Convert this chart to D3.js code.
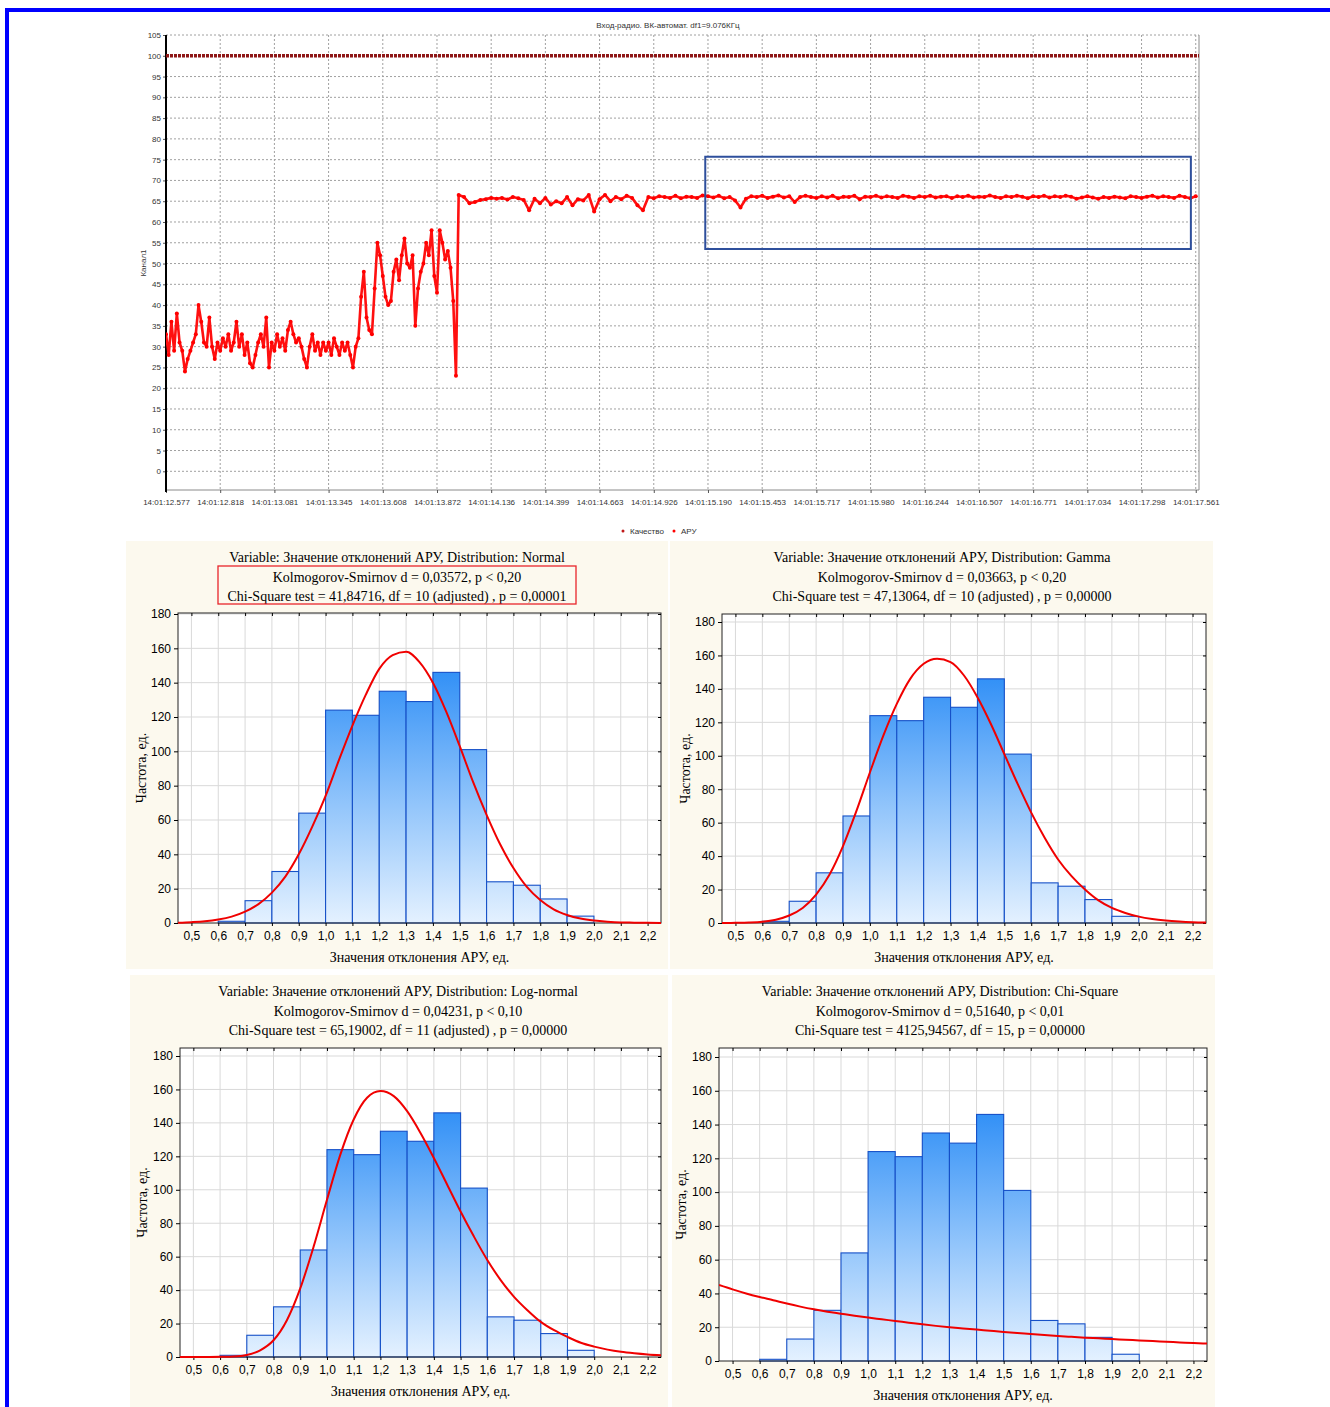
<!DOCTYPE html>
<html>
<head>
<meta charset="utf-8">
<script src="https://cdn.jsdelivr.net/npm/d3@7"></script>
<style>
body { margin: 0; background: #fff; }
svg { display: block; }
</style>
</head>
<body>
<svg id="chart" width="1330" height="1407"></svg>
<script>
// ---- top chart data ----
var timeLabels = ['14:01:12.577','14:01:12.818','14:01:13.081','14:01:13.345','14:01:13.608',
  '14:01:13.872','14:01:14.136','14:01:14.399','14:01:14.663','14:01:14.926',
  '14:01:15.190','14:01:15.453','14:01:15.717','14:01:15.980','14:01:16.244',
  '14:01:16.507','14:01:16.771','14:01:17.034','14:01:17.298','14:01:17.561'];
var levelTicks = [0,5,10,15,20,25,30,35,40,45,50,55,60,65,70,75,80,85,90,95,100,105];

// АРУ readings, first part: one value every 0.05 of a tick interval, from the first tick
var aruEarly = [33,28,36,29,38,31,29,24,27,29,
  31,33,40,36,31,30,37,30,27,31,
  29,32,30,33,29,31,36,30,33,28,
  31,26,25,28,31,33,30,37,25,31,
  29,33,30,32,29,34,36,33,31,32,
  30,27,25,30,33,29,31,28,31,29,
  31,28,32,30,28,31,29,31,28,25,
  30,32,42,48,37,34,33,44,55,52,
  47,42,40,41,48,51,46,52,56,50,
  49,52,35,44,48,50,55,52,58,47,
  43,58,55,51,53,49,41,23];
var aruEarlyStart = 0, aruEarlyStep = 0.05;
// АРУ readings, second part: one value every 0.1 of a tick interval
var aruLate = [66.5,66,64.5,64.8,65.3,65.5,65.8,65.6,65.8,65.4,
  66,65.7,65.3,62.8,65.6,64.5,65.8,64.2,65,64.5,
  66,64,65.5,65.2,66.5,62.5,65.5,66.5,65,66,
  65.5,66.3,65.8,64,62.8,66,65.7,66.2,66,65.8,
  66.3,65.7,66.1,66,65.8,66.4,66.2,65.9,66.3,65.7,
  66,65.2,63.5,65.6,66.2,66,66.3,65.8,66.1,66.4,
  65.9,66.2,64.8,66,66.3,66,65.8,66.2,65.9,66.3,
  65.7,66.1,66,66.3,65.5,66.1,66,66.3,65.9,66.2,
  66,65.8,66.3,66.1,65.8,66.2,66,66.3,65.9,66.1,
  66.2,65.8,66.2,66,66.3,65.9,66.1,66,66.4,66,
  65.8,66.2,66,66.3,66.1,65.7,66.2,66,66.3,65.9,
  66.2,66,66.3,66.1,65.6,65.9,66.2,65.9,65.6,66,
  65.8,66.1,65.9,65.7,66.2,66,65.8,66.1,66.3,65.9,
  66.2,66,65.8,66.3,66,65.7,66.2];
var aruLateStart = 5.4, aruLateStep = 0.1;
var qualityX = [0, 19.06];
var qualityY = [100, 100];
var focusX = [9.95, 18.91];
var focusY = [53.5, 75.7];

// ---- histogram data ----
var binStarts = [0.6,0.7,0.8,0.9,1.0,1.1,1.2,1.3,1.4,1.5,1.6,1.7,1.8,1.9];
var binCounts = [1,13,30,64,124,121,135,129,146,101,24,22,14,4];
var xTickValues = [0.5,0.6,0.7,0.8,0.9,1.0,1.1,1.2,1.3,1.4,1.5,1.6,1.7,1.8,1.9,2.0,2.1,2.2];
var yTickValues = [0,20,40,60,80,100,120,140,160,180];
var fitX = [0.45,0.5,0.55,0.6,0.65,0.7,0.75,0.8,0.85,0.9,0.95,1.0,1.05,1.1,1.15,1.2,1.25,1.3,1.35,
  1.4,1.45,1.5,1.55,1.6,1.65,1.7,1.75,1.8,1.85,1.9,1.95,2.0,2.05,2.1,2.15,2.2,2.25];
var normalFit = [0.2,0.5,1,2,3.7,6.6,11,17.7,27,40,56,74,95,115,133,148,156,158,152,
  140,123,103,82,63,46,32,21,13.4,8,4.7,2.6,1.4,0.7,0.3,0.2,0.1,0.05];
var gammaFit = [0,0.1,0.3,0.8,2,4.5,9,17,29,46,67,90,112,131,146,155,158,156,148,
  135,119,101,83,66,51,38,28,20,13.5,9,6,3.8,2.4,1.5,0.9,0.5,0.3];
var lognormFit = [0,0,0,0.1,0.3,1.2,4,10,22,41,66,94,121,142,155,159,156,147,134,
  119,103,87,72,58,46,36,28,21,16,12,8.5,6.2,4.4,3.1,2.2,1.5,1];
var chiFit = [45,42.4,40,37.9,36,34,32.2,30.6,29.2,28,26.8,25.7,24.7,23.7,22.7,21.7,20.8,20,19.3,
  18.6,17.9,17.2,16.6,16,15.4,14.8,14.3,13.8,13.4,13,12.6,12.2,11.8,11.4,11,10.6,10.3];
var titleNormal = ['Variable: Значение отклонений АРУ, Distribution: Normal',
  'Kolmogorov-Smirnov d = 0,03572, p < 0,20',
  'Chi-Square test = 41,84716, df = 10 (adjusted) , p = 0,00001'];
var titleGamma = ['Variable: Значение отклонений АРУ, Distribution: Gamma',
  'Kolmogorov-Smirnov d = 0,03663, p < 0,20',
  'Chi-Square test = 47,13064, df = 10 (adjusted) , p = 0,00000'];
var titleLognorm = ['Variable: Значение отклонений АРУ, Distribution: Log-normal',
  'Kolmogorov-Smirnov d = 0,04231, p < 0,10',
  'Chi-Square test = 65,19002, df = 11 (adjusted) , p = 0,00000'];
var titleChi = ['Variable: Значение отклонений АРУ, Distribution: Chi-Square',
  'Kolmogorov-Smirnov d = 0,51640, p < 0,01',
  'Chi-Square test = 4125,94567, df = 15, p = 0,00000'];
var xAxisTitle = 'Значения отклонения АРУ, ед.';
var yAxisTitle = 'Частота, ед.';

var svg = d3.select('#chart');
var sans = "'Liberation Sans', Arial, sans-serif";
var serif = "'Liberation Serif', 'Times New Roman', serif";

// blue page frame
svg.append('rect').attr('x', 7).attr('y', 10).attr('width', 1340).attr('height', 1420)
  .attr('fill', 'none').attr('stroke', '#0000ff').attr('stroke-width', 4);

// ================= top chart =================
var tp = {l: 166, r: 1199, t: 35, b: 490};
var tx = d3.scaleLinear().domain([0, 19.06]).range([tp.l, tp.r]);
var ty = d3.scaleLinear().domain([-4.5, 105]).range([tp.b, tp.t]);
var topG = svg.append('g');

topG.append('text').attr('x', 668).attr('y', 28).attr('text-anchor', 'middle')
  .style('font', '8px ' + sans).attr('fill', '#333')
  .text('Вход-радио. ВК-автомат. df1=9.076КГц');

topG.selectAll('line.hg').data(levelTicks).enter().append('line')
  .attr('x1', tp.l).attr('x2', tp.r)
  .attr('y1', function(d){ return ty(d); }).attr('y2', function(d){ return ty(d); })
  .attr('stroke', '#a0a0a0').attr('stroke-dasharray', '2,2');
topG.selectAll('line.vg').data(d3.range(1, timeLabels.length)).enter().append('line')
  .attr('x1', function(d){ return tx(d); }).attr('x2', function(d){ return tx(d); })
  .attr('y1', tp.t).attr('y2', tp.b)
  .attr('stroke', '#a0a0a0').attr('stroke-dasharray', '2,2');
topG.append('line').attr('x1', tp.r).attr('x2', tp.r).attr('y1', tp.t).attr('y2', tp.b)
  .attr('stroke', '#8a8a8a');
topG.append('line').attr('x1', tp.l).attr('x2', tp.r).attr('y1', tp.b).attr('y2', tp.b)
  .attr('stroke', '#8a8a8a');

var yAx = topG.append('g').attr('transform', 'translate(' + tp.l + ',0)')
  .call(d3.axisLeft(ty).tickValues(levelTicks).tickSize(3).tickPadding(2));
yAx.select('.domain').remove();
yAx.selectAll('text').style('font', '8px ' + sans).attr('fill', '#333');
yAx.selectAll('line').attr('stroke', '#555');

var xAx = topG.append('g').attr('transform', 'translate(0,' + tp.b + ')')
  .call(d3.axisBottom(tx).tickValues(d3.range(timeLabels.length))
    .tickFormat(function(i){ return timeLabels[i]; }).tickSize(3).tickPadding(6));
xAx.select('.domain').remove();
xAx.selectAll('text').style('font', '8px ' + sans).attr('fill', '#333');
xAx.selectAll('line').attr('stroke', '#555');

topG.append('line').attr('x1', tp.l).attr('x2', tp.l).attr('y1', tp.t).attr('y2', tp.b + 2)
  .attr('stroke', '#000').attr('stroke-width', 2);

topG.append('text').attr('transform', 'translate(146,263) rotate(-90)')
  .attr('text-anchor', 'middle').style('font', '8px ' + sans).attr('fill', '#333').text('Канал1');

svg.append('clipPath').attr('id', 'topClip').append('rect')
  .attr('x', tp.l).attr('y', tp.t).attr('width', tp.r - tp.l).attr('height', tp.b - tp.t);
var plotG = topG.append('g').attr('clip-path', 'url(#topClip)');

// Качество
plotG.append('path')
  .datum(d3.zip(qualityX, qualityY))
  .attr('d', d3.line().x(function(d){ return tx(d[0]); }).y(function(d){ return ty(d[1]); }))
  .attr('stroke', '#8e1616').attr('stroke-width', 3.5).attr('stroke-dasharray', '3,1').attr('fill', 'none');

// АРУ
var aruPts = aruEarly.map(function(v, i){ return [aruEarlyStart + i * aruEarlyStep, v]; })
  .concat(aruLate.map(function(v, i){ return [aruLateStart + i * aruLateStep, v]; }));
plotG.append('path').datum(aruPts)
  .attr('d', d3.line().x(function(d){ return tx(d[0]); }).y(function(d){ return ty(d[1]); }))
  .attr('stroke', '#ff1010').attr('stroke-width', 2.6).attr('stroke-linejoin', 'round').attr('fill', 'none');
plotG.selectAll('circle.aru').data(aruPts).enter().append('circle')
  .attr('cx', function(d){ return tx(d[0]); }).attr('cy', function(d){ return ty(d[1]); })
  .attr('r', 2).attr('fill', '#ff0000');

// highlighted region
topG.append('rect')
  .attr('x', tx(focusX[0])).attr('y', ty(focusY[1]))
  .attr('width', tx(focusX[1]) - tx(focusX[0])).attr('height', ty(focusY[0]) - ty(focusY[1]))
  .attr('fill', 'none').attr('stroke', '#2e4f9c').attr('stroke-width', 2);

// legend
var legendItems = ['Качество', 'АРУ'];
var legendX = [623, 674];
legendItems.forEach(function(name, i){
  topG.append('circle').attr('cx', legendX[i]).attr('cy', 531).attr('r', 1.5).attr('fill', i ? '#ff0000' : '#c01818');
  topG.append('text').attr('x', legendX[i] + 7).attr('y', 534).style('font', '8px ' + sans)
    .attr('fill', '#333').text(name);
});

// ================= histograms =================
var panels = [
  {fit: normalFit, lines: titleNormal, box: true, bg: [126, 541, 542, 428],
   l: 178, r: 661, t: 613, b: 923, y180: 614, cx: 397, ty: 562, xl: 957, ylx: 141},
  {fit: gammaFit, lines: titleGamma, box: false, bg: [670, 541, 543, 428],
   l: 722, r: 1206, t: 614, b: 923, y180: 622, cx: 942, ty: 562, xl: 957, ylx: 685},
  {fit: lognormFit, lines: titleLognorm, box: false, bg: [130, 975, 538, 432],
   l: 180, r: 661, t: 1048, b: 1357, y180: 1056, cx: 398, ty: 996, xl: 1391, ylx: 142},
  {fit: chiFit, lines: titleChi, box: false, bg: [672, 975, 543, 432],
   l: 719, r: 1207, t: 1048, b: 1361, y180: 1057, cx: 940, ty: 996, xl: 1395, ylx: 681}
];

var fmt = function(d){ return d3.format('.1f')(d).replace('.', ','); };

panels.forEach(function(p, k){
  var g = svg.append('g');
  g.append('rect').attr('x', p.bg[0]).attr('y', p.bg[1]).attr('width', p.bg[2]).attr('height', p.bg[3])
    .attr('fill', '#fcf9ee');

  var x = d3.scaleLinear().domain([0.45, 2.25]).range([p.l, p.r]);
  var y = d3.scaleLinear().domain([0, 180]).range([p.b, p.y180]);

  p.lines.forEach(function(s, i){
    g.append('text').attr('x', p.cx).attr('y', p.ty + i * 19.5).attr('text-anchor', 'middle')
      .style('font', '14px ' + serif).attr('fill', '#000').text(s);
  });
  if (p.box) {
    g.append('rect').attr('x', 218).attr('y', 566).attr('width', 358).attr('height', 38)
      .attr('fill', 'none').attr('stroke', '#e8262b').attr('stroke-width', 1.3);
  }

  g.append('rect').attr('x', p.l).attr('y', p.t).attr('width', p.r - p.l).attr('height', p.b - p.t)
    .attr('fill', '#fff');

  // grid
  g.selectAll('line.vg').data(xTickValues).enter().append('line')
    .attr('x1', function(d){ return x(d); }).attr('x2', function(d){ return x(d); })
    .attr('y1', p.t).attr('y2', p.b).attr('stroke', '#d9d9d9');
  g.selectAll('line.hg').data(yTickValues.slice(1)).enter().append('line')
    .attr('x1', p.l).attr('x2', p.r)
    .attr('y1', function(d){ return y(d); }).attr('y2', function(d){ return y(d); })
    .attr('stroke', '#d9d9d9');

  var grad = svg.append('defs').append('linearGradient').attr('id', 'barGrad' + k)
    .attr('gradientUnits', 'userSpaceOnUse')
    .attr('x1', 0).attr('x2', 0).attr('y1', y(0)).attr('y2', y(150));
  grad.append('stop').attr('offset', 0).attr('stop-color', '#e4f1ff');
  grad.append('stop').attr('offset', 0.45).attr('stop-color', '#94c6fb');
  grad.append('stop').attr('offset', 1).attr('stop-color', '#2e8ef6');

  g.selectAll('rect.bar').data(binStarts).enter().append('rect')
    .attr('x', function(d){ return x(d); })
    .attr('width', function(d){ return x(d + 0.1) - x(d); })
    .attr('y', function(d, i){ return y(binCounts[i]); })
    .attr('height', function(d, i){ return y(0) - y(binCounts[i]); })
    .attr('fill', 'url(#barGrad' + k + ')').attr('stroke', '#1651c8').attr('stroke-width', 1.1);

  g.append('rect').attr('x', p.l).attr('y', p.t).attr('width', p.r - p.l).attr('height', p.b - p.t)
    .attr('fill', 'none').attr('stroke', '#222').attr('stroke-width', 1);

  // ticks
  var ya = g.append('g').attr('transform', 'translate(' + p.l + ',0)')
    .call(d3.axisLeft(y).tickValues(yTickValues).tickSize(4).tickPadding(3));
  ya.select('.domain').remove();
  ya.selectAll('text').style('font', '12px ' + sans).attr('fill', '#000');
  var yr = g.append('g').attr('transform', 'translate(' + p.r + ',0)')
    .call(d3.axisRight(y).tickValues(yTickValues).tickSize(3).tickFormat(''));
  yr.select('.domain').remove();
  yr.selectAll('line').attr('transform', 'translate(-3,0)');
  var xa = g.append('g').attr('transform', 'translate(0,' + p.b + ')')
    .call(d3.axisBottom(x).tickValues(xTickValues).tickSize(3).tickPadding(5).tickFormat(fmt));
  xa.select('.domain').remove();
  xa.selectAll('text').style('font', '12px ' + sans).attr('fill', '#000');
  var xt = g.append('g').attr('transform', 'translate(0,' + p.t + ')')
    .call(d3.axisBottom(x).tickValues(xTickValues).tickSize(3).tickFormat(''));
  xt.select('.domain').remove();

  g.append('text').attr('x', (p.l + p.r) / 2).attr('y', p.xl + 5).attr('text-anchor', 'middle')
    .style('font', '14px ' + serif).attr('fill', '#000').text(xAxisTitle);
  g.append('text').attr('transform', 'translate(' + (p.ylx + 5) + ',' + ((p.t + p.b) / 2) + ') rotate(-90)')
    .attr('text-anchor', 'middle').style('font', '14px ' + serif).attr('fill', '#000').text(yAxisTitle);

  var clipId = 'hclip' + k;
  svg.append('clipPath').attr('id', clipId).append('rect')
    .attr('x', p.l).attr('y', p.t - 1).attr('width', p.r - p.l).attr('height', p.b - p.t + 2);
  g.append('path').datum(d3.zip(fitX, p.fit)).attr('clip-path', 'url(#' + clipId + ')')
    .attr('d', d3.line().curve(d3.curveMonotoneX)
      .x(function(d){ return x(d[0]); }).y(function(d){ return y(d[1]); }))
    .attr('fill', 'none').attr('stroke', '#f00000').attr('stroke-width', 2);
});
</script>
</body>
</html>
